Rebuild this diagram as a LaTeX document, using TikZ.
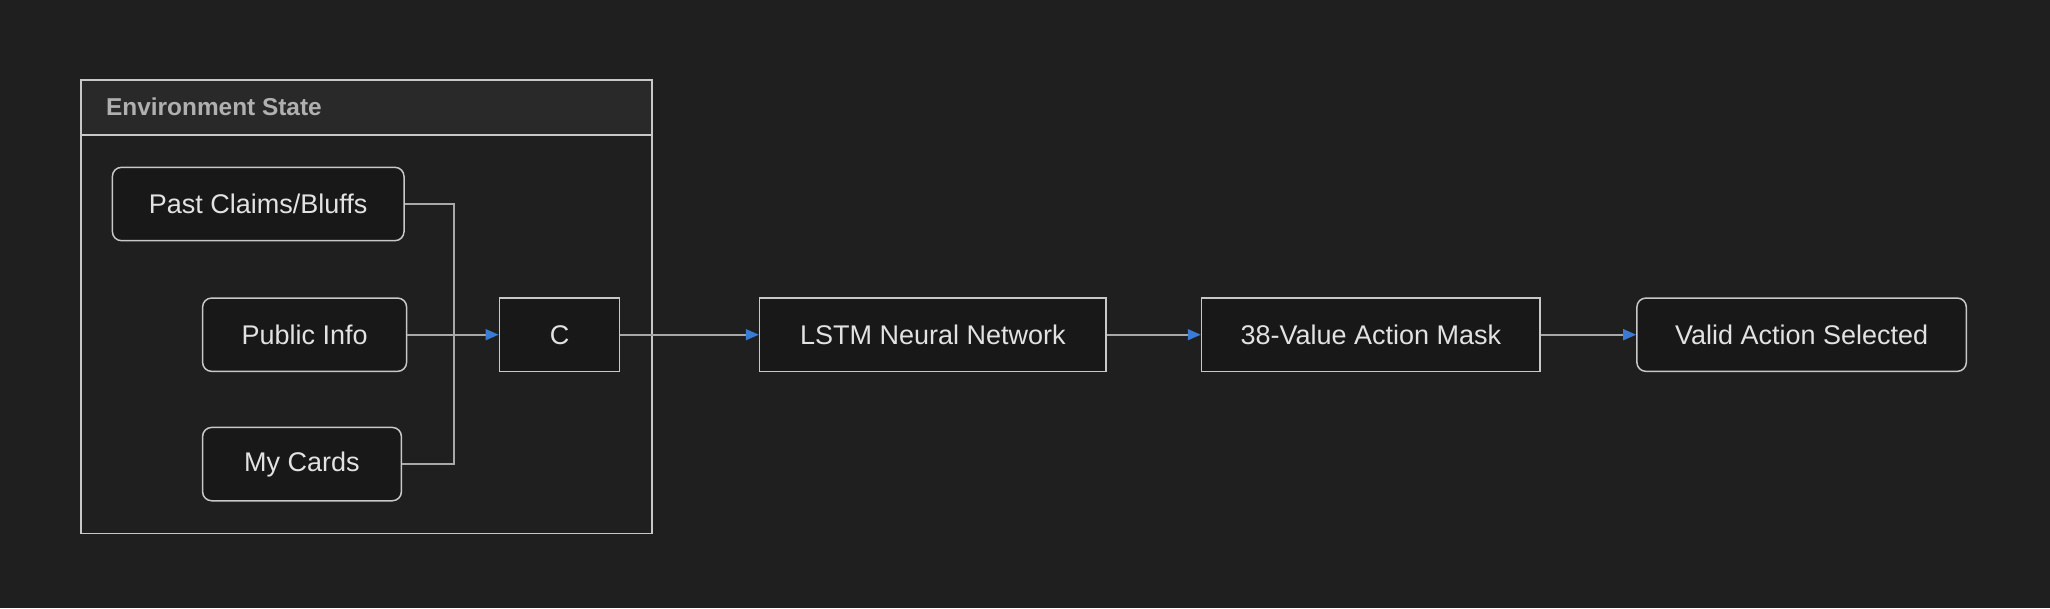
\documentclass[tikz,border=0pt]{standalone}
\usepackage{fontspec}
\setmainfont{Liberation Sans}
\usetikzlibrary{arrows.meta}
\definecolor{bgc}{HTML}{1F1F1F}
\definecolor{hdrc}{HTML}{292929}
\definecolor{nodec}{HTML}{181818}
\definecolor{borderc}{HTML}{C8C8C8}
\definecolor{txtc}{HTML}{E2E2E2}
\definecolor{titlec}{HTML}{B0B0B0}
\definecolor{linec}{HTML}{A8A8A8}
\definecolor{arrowc}{HTML}{3A7BD5}
\tikzset{
  boxnode/.style={draw=borderc, fill=nodec, line width=1.5pt, text=txtc,
    minimum height=73.3pt, inner sep=0pt,
    font=\fontsize{27}{32}\selectfont},
  roundnode/.style={boxnode, rounded corners=9pt},
  conn/.style={draw=linec, line width=1.6pt,
    -{Triangle[length=13pt,width=11pt,color=arrowc,fill=arrowc]}},
  plainconn/.style={draw=linec, line width=1.6pt},
  grp/.style={draw=borderc, line width=1.8pt}
}
\begin{document}
\begin{tikzpicture}[x=1pt,y=-1pt]
\fill[bgc] (0,0) rectangle (2050,608);
\useasboundingbox (0,0) rectangle (2050,608);
% group
\fill[hdrc] (81,80) rectangle (652,135);
\draw[grp] (81,80) rectangle (652,533.5);
\draw[grp] (81,135) -- (652,135);
\node[anchor=west, text=titlec, font=\bfseries\fontsize{24.4}{29}\selectfont, inner sep=0pt] (title) at (106,107) {Environment State};
% nodes
\node[roundnode, minimum width=291.6pt] (past) at (258.2,204) {Past Claims/Bluffs};
\node[roundnode, minimum width=204pt] (public) at (304.6,334.7) {Public Info};
\node[roundnode, minimum width=198.8pt] (cards) at (302,464.1) {My Cards};
\node[boxnode, minimum width=120.3pt] (c) at (559.5,334.7) {C};
\node[boxnode, minimum width=346.5pt] (lstm) at (932.8,334.7) {LSTM Neural Network};
\node[boxnode, minimum width=338.6pt] (mask) at (1370.8,334.7) {38-Value Action Mask};
\node[roundnode, minimum width=329.4pt] (valid) at (1801.6,334.7) {Valid Action Selected};
\coordinate (j) at (453.7,334.7);
% connectors
\draw[plainconn] (past.east) -- (past.east -| j) -- (j);
\draw[plainconn] (cards.east) -- (cards.east -| j) -- (j);
\draw[conn] (public.east) -- (c.west);
\draw[conn] (c.east) -- (lstm.west);
\draw[conn] (lstm.east) -- (mask.west);
\draw[conn] (mask.east) -- (valid.west);
\end{tikzpicture}
\end{document}
